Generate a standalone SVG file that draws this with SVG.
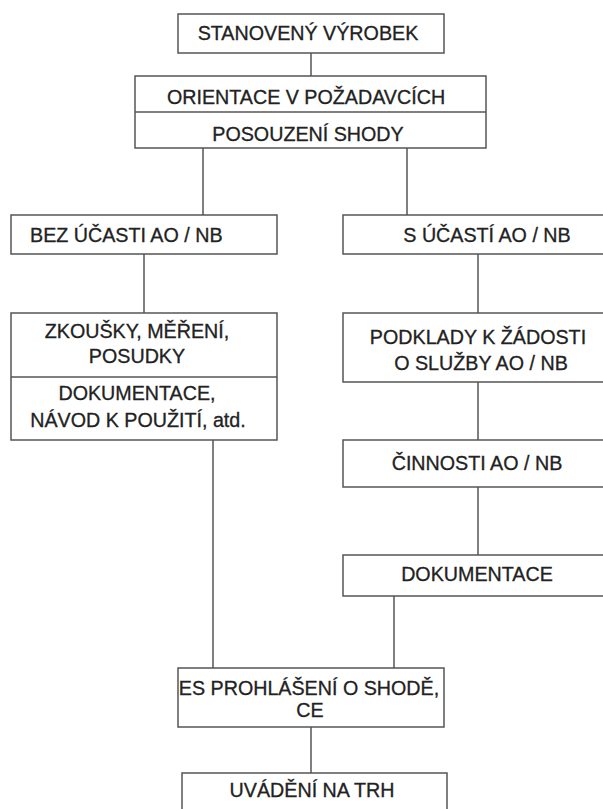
<svg xmlns="http://www.w3.org/2000/svg" width="603" height="809" viewBox="0 0 603 809">
<style>
.b{fill:#fff;stroke:#555;stroke-width:1.5}
.d{stroke:#555;stroke-width:1.5;fill:none}
.t{font-family:"Liberation Sans",Arial,sans-serif;font-size:19.7px;fill:#222;stroke:#222;stroke-width:0.3;text-anchor:middle}
.s{text-anchor:start}
</style>
<rect width="603" height="809" fill="#fff"/>
<g id="connectors">
<line class="d" x1="311" y1="53" x2="311" y2="76"/>
<line class="d" x1="203" y1="148" x2="203" y2="215"/>
<line class="d" x1="407" y1="148" x2="407" y2="215"/>
<line class="d" x1="144" y1="254" x2="144" y2="313"/>
<line class="d" x1="478" y1="254" x2="478" y2="313"/>
<line class="d" x1="478" y1="382" x2="478" y2="440"/>
<line class="d" x1="478" y1="487" x2="478" y2="555"/>
<line class="d" x1="394" y1="596" x2="394" y2="668"/>
<line class="d" x1="213" y1="440" x2="213" y2="668"/>
<line class="d" x1="311" y1="727" x2="311" y2="773"/>
</g>
<g id="n-stanoveny">
<rect class="b" x="178" y="14" width="266" height="39"/>
<text class="t" x="308" y="40">STANOVENÝ VÝROBEK</text>
</g>
<g id="n-orientace">
<rect class="b" x="135" y="76" width="351" height="72"/>
<line class="d" x1="135" y1="112" x2="486" y2="112"/>
<text class="t" x="306" y="104">ORIENTACE V POŽADAVCÍCH</text>
<text class="t" x="308" y="141">POSOUZENÍ SHODY</text>
</g>
<g id="n-bez">
<rect class="b" x="11" y="215" width="266" height="39"/>
<text class="t s" x="30" y="242">BEZ ÚČASTI AO / NB</text>
</g>
<g id="n-s">
<rect class="b" x="343" y="215" width="270" height="39"/>
<text class="t" x="487" y="242">S ÚČASTÍ AO / NB</text>
</g>
<g id="n-zkousky">
<rect class="b" x="11" y="313" width="266" height="127"/>
<line class="d" x1="11" y1="377" x2="277" y2="377"/>
<text class="t" x="137" y="338">ZKOUŠKY, MĚŘENÍ,</text>
<text class="t" x="137" y="363">POSUDKY</text>
<text class="t" x="137" y="400">DOKUMENTACE,</text>
<text class="t" x="138" y="427">NÁVOD K POUŽITÍ, atd.</text>
</g>
<g id="n-podklady">
<rect class="b" x="343" y="313" width="270" height="69"/>
<text class="t" x="478" y="344">PODKLADY K ŽÁDOSTI</text>
<text class="t" x="481" y="370">O SLUŽBY AO / NB</text>
</g>
<g id="n-cinnosti">
<rect class="b" x="343" y="440" width="270" height="47"/>
<text class="t" x="477" y="470">ČINNOSTI AO / NB</text>
</g>
<g id="n-dokumentace">
<rect class="b" x="343" y="555" width="270" height="41"/>
<text class="t" x="477" y="581">DOKUMENTACE</text>
</g>
<g id="n-es">
<rect class="b" x="178" y="668" width="266" height="59"/>
<text class="t" x="309" y="695">ES PROHLÁŠENÍ O SHODĚ,</text>
<text class="t" x="310" y="717">CE</text>
</g>
<g id="n-trh">
<rect class="b" x="182" y="773" width="265" height="45"/>
<text class="t" x="312" y="797">UVÁDĚNÍ NA TRH</text>
</g>
</svg>
